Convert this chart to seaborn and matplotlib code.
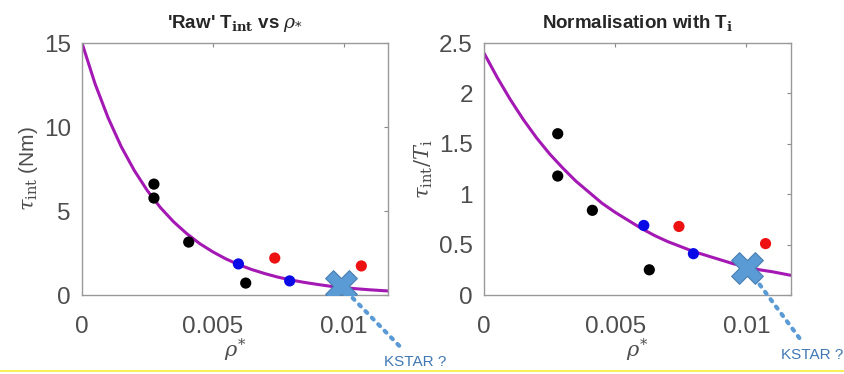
"""Recreate the two-panel tau_int vs rho* comparison with the KSTAR estimate."""

import matplotlib
matplotlib.use("Agg")
import matplotlib.pyplot as plt
from matplotlib.lines import Line2D
import pandas as pd
import seaborn as sns

# ---- data ----
# measured points (rho*, value, group)
raw_rho = [0.00275, 0.00275, 0.00408, 0.00598, 0.00626, 0.00737, 0.00794, 0.01068]
raw_tau = [6.6, 5.77, 3.15, 1.85, 0.71, 2.2, 0.84, 1.73]
raw_group = ["black", "black", "black", "blue", "black", "red", "blue", "red"]

norm_rho = [0.00281, 0.00281, 0.00413, 0.00609, 0.0063, 0.00743, 0.00798, 0.01073]
norm_tau = [1.6, 1.18, 0.84, 0.69, 0.25, 0.68, 0.41, 0.51]
norm_group = ["black", "black", "black", "blue", "black", "red", "blue", "red"]

# KSTAR estimates
kstar_rho = [0.0099, 0.01003]
kstar_raw = [0.54]
kstar_norm = [0.27]

# fitted curves, sampled along the drawn line
curve_rho = [0.0, 0.0005, 0.001, 0.0015, 0.002, 0.0025, 0.003, 0.0035, 0.004,
             0.0045, 0.005, 0.0055, 0.006, 0.0065, 0.007, 0.0075, 0.008,
             0.0085, 0.009, 0.0095, 0.01, 0.0105, 0.011, 0.0117]
curve_raw = [15.0, 12.57, 10.54, 8.83, 7.41, 6.21, 5.20, 4.36, 3.66, 3.06,
             2.57, 2.15, 1.80, 1.51, 1.27, 1.06, 0.89, 0.75, 0.63, 0.52,
             0.44, 0.37, 0.31, 0.24]
curve_norm = [2.40, 2.16, 1.94, 1.74, 1.56, 1.40, 1.26, 1.13, 1.02, 0.91,
              0.82, 0.74, 0.66, 0.59, 0.53, 0.48, 0.43, 0.39, 0.35, 0.31,
              0.28, 0.25, 0.23, 0.195]

palette = {"black": "#000000", "blue": "#0a0ae6", "red": "#ee1111"}
GRAY = "#4d4d4d"
KSTAR_COLOR = "#5b9bd5"

sns.set_style("white")
plt.rcParams["font.family"] = ["Liberation Sans", "DejaVu Sans"]
plt.rcParams["mathtext.fontset"] = "dejavuserif"

fig = plt.figure(figsize=(8.45, 3.74), dpi=100)
ax1 = fig.add_axes([82 / 845, 79 / 374, 306 / 845, 252 / 374])
ax2 = fig.add_axes([484 / 845, 79 / 374, 307 / 845, 252 / 374])


def draw_panel(ax, rho, tau, group, curve, k_rho, k_val, ylim, yticks,
               yticklabels, ylabel, title, text_xy):
    sns.lineplot(x=curve_rho, y=curve, ax=ax, color="#a418b4", linewidth=2.2,
                 zorder=2)
    df = pd.DataFrame({"rho": rho, "tau": tau, "group": group})
    sns.scatterplot(data=df, x="rho", y="tau", hue="group", palette=palette,
                    s=65, edgecolor="none", legend=False, ax=ax, zorder=3)
    sns.scatterplot(x=[k_rho], y=k_val, marker="X", s=520, color=KSTAR_COLOR,
                    edgecolor="#4a7fb0", linewidth=0.8, ax=ax, zorder=4)
    ax.annotate("KSTAR ?", xy=(k_rho, k_val[0]), xytext=text_xy,
                textcoords="figure pixels", fontsize=11, color="#3f78b5",
                ha="center", va="center", annotation_clip=False,
                arrowprops=dict(arrowstyle="-", linestyle=(0, (0.6, 1.6)),
                                linewidth=3, color=KSTAR_COLOR,
                                capstyle="round", shrinkA=6, shrinkB=8))

    ax.set_xlim(0, 0.0117)
    ax.set_ylim(*ylim)
    ax.set_xticks([0, 0.005, 0.01])
    ax.set_xticklabels(["0", "0.005", "0.01"])
    ax.set_yticks(yticks)
    ax.set_yticklabels(yticklabels)
    ax.tick_params(direction="in", length=3, width=0.8, colors="#888888",
                   labelcolor=GRAY, labelsize=17.5, top=True, right=True,
                   pad=8)
    ax.tick_params(axis="x", pad=15)
    for spine in ax.spines.values():
        spine.set_visible(True)
        spine.set_color("#999999")
        spine.set_linewidth(1.0)
    ax.set_xlabel(r"$\rho^{*}$", fontsize=15, color=GRAY, labelpad=-1)
    ax.set_ylabel(ylabel, fontsize=15, color=GRAY, labelpad=3)
    ax.set_title(title, fontsize=13.5, fontweight="bold", pad=11)


draw_panel(ax1, raw_rho, raw_tau, raw_group, curve_raw, kstar_rho[0],
           kstar_raw, (0, 15), [0, 5, 10, 15], ["0", "5", "10", "15"],
           r"$\tau_{\rm int}$ (Nm)",
           r"'Raw' T$_{\mathbf{int}}$ vs $\rho_{*}$", (415, 12))
draw_panel(ax2, norm_rho, norm_tau, norm_group, curve_norm, kstar_rho[1],
           kstar_norm, (0, 2.5), [0, 0.5, 1, 1.5, 2, 2.5],
           ["0", "0.5", "1", "1.5", "2", "2.5"],
           r"$\tau_{\rm int}/T_{\rm i}$",
           r"Normalisation with T$_{\mathbf{i}}$", (812, 19))

# thin yellow rule along the bottom edge of the slide crop
fig.add_artist(Line2D([0, 1], [3 / 374, 3 / 374], color="#f5ef3a",
                      linewidth=1.2, transform=fig.transFigure))

fig.savefig("out.png", dpi=100)
plt.close(fig)
